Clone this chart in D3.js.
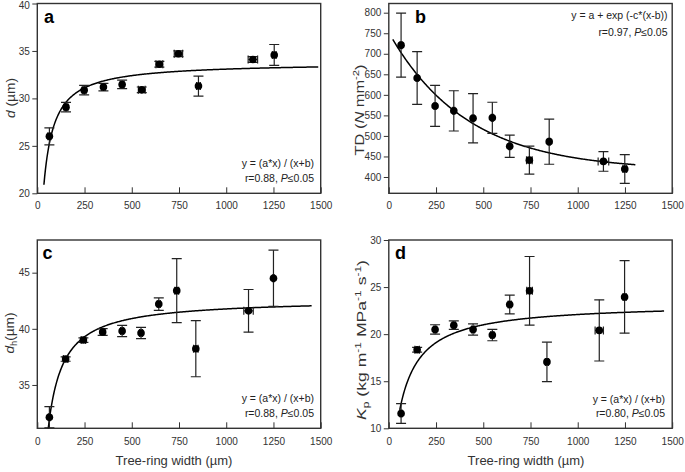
<!DOCTYPE html>
<html><head><meta charset="utf-8">
<script src="https://cdn.jsdelivr.net/npm/d3@7"></script>
<style>
body{margin:0;background:#fff;}
svg text{font-family:"Liberation Sans",Arial,Helvetica,sans-serif;}
</style></head><body>
<svg id="chart" width="685" height="472"></svg>
<script>
// ---------- data ----------
const xTicks = [0, 250, 500, 750, 1000, 1250, 1500];

// panel a : d (µm)
const aX    = [64, 152, 248, 350, 449, 553, 646, 747, 853, 1141, 1254];
const aY    = [26.0, 29.08, 30.87, 31.19, 31.47, 30.9, 33.6, 34.7, 31.3, 34.1, 34.58];
const aErr  = [0.9, 0.5, 0.5, 0.4, 0.45, 0.3, 0.3, 0.3, 1.05, 0.3, 1.1];
const aXErr = [8, 10, 10, 10, 10, 18, 18, 22, 10, 25, 10];
const aYTicks = [20, 25, 30, 35, 40];
const aFit = [33.8, 21.6];          // y = (a*x)/(x+b)
const aFitX = [35, 1487];

// panel b : TD (N mm-2)
const bX    = [65, 150, 245, 344, 446, 548, 640, 744, 849, 1136, 1249];
const bY    = [721, 641, 573, 561, 543, 544, 475, 441, 486, 438, 419.5];
const bErr  = [78, 64, 50, 49, 60, 38, 27, 34, 55, 24, 35];
const bXErr = [5, 5, 5, 5, 5, 5, 5, 15, 5, 28, 10];
const bYTicks = [400, 450, 500, 550, 600, 650, 700, 750, 800];
const bFit = [415.5, 2409.7, 0.002414]; // y = a + exp(-c*(x-b))
const bFitX = [21, 1305];

// panel c : dh (µm)
const cX    = [64, 150, 244, 346, 449, 549, 643, 738, 839, 1118, 1250];
const cY    = [32.12, 37.31, 39.0, 39.72, 39.8, 39.63, 42.2, 43.4, 38.23, 41.6, 44.5];
const cErr  = [0.95, 0.2, 0.2, 0.3, 0.5, 0.5, 0.55, 2.85, 2.5, 1.9, 2.5];
const cXErr = [5, 12, 12, 12, 8, 8, 8, 10, 12, 25, 5];
const cYTicks = [35, 40, 45];
const cFit = [42.67, 21.5];
const cFitX = [55, 1452];

// panel d : Kp
const dX    = [65, 150, 245, 344, 446, 548, 640, 745, 837, 1114, 1248];
const dY    = [11.57, 18.35, 20.5, 20.95, 20.5, 19.9, 23.15, 24.6, 17.05, 20.4, 23.95];
const dErr  = [1.05, 0.25, 0.5, 0.45, 0.6, 0.6, 1.0, 3.65, 2.1, 3.25, 3.85];
const dXErr = [5, 12, 8, 8, 8, 8, 8, 15, 8, 22, 8];
const dYTicks = [10, 15, 20, 25, 30];
const dFit = [23.3, 55];
const dFitX = [58, 1457];

const xTitle = "Tree-ring width (µm)";
const aLabel = [{t:"d", i:1}, {t:" (µm)"}];
const bLabel = [{t:"TD ("}, {t:"N", i:1}, {t:" mm"}, {t:"-2", sup:1}, {t:")"}];
const cLabel = [{t:"d", i:1}, {t:"h", sub:1}, {t:"(µm)"}];
const dLabel = [{t:"K", i:1}, {t:"p", sub:1}, {t:" (kg m"}, {t:"-1", sup:1}, {t:" MPa"}, {t:"-1", sup:1}, {t:" s"}, {t:"-1", sup:1}, {t:")"}];
const eqHyper = "y = (a*x) / (x+b)";
const eqExp = "y = a + exp (-c*(x-b))";
const statA = [{t:"r=0.88, "}, {t:"P", i:1}, {t:"≤0.05"}];
const statB = [{t:"r=0.97, "}, {t:"P", i:1}, {t:"≤0.05"}];
const statC = [{t:"r=0.88, "}, {t:"P", i:1}, {t:"≤0.05"}];
const statD = [{t:"r=0.80, "}, {t:"P", i:1}, {t:"≤0.05"}];

// ---------- layout ----------
const svg = d3.select("#chart");
const colL = [37.3, 320.7], colR = [388.8, 672.2];
const rowT = [3.5, 193.3], rowB = [240, 428.3];

function rich(sel, parts, size) {
  let shift = 0;
  parts.forEach(p => {
    const s = sel.append("tspan").text(p.t);
    let target = 0;
    if (p.i) s.attr("font-style", "italic");
    if (p.sup) { s.attr("font-size", size * 0.68); target = -size * 0.38; }
    if (p.sub) { s.attr("font-size", size * 0.68); target = size * 0.22; }
    if (target !== shift) s.attr("dy", target - shift);
    shift = target;
  });
}

const hyper = f => x => f[0] * x / (x + f[1]);
const expo = f => x => f[0] + Math.exp(-f[2] * (x - f[1]));

const panels = [
  {id:"a", xs:aX, ys:aY, err:aErr, xerr:aXErr, dom:[20,40], ticks:aYTicks, cx:colL, ry:rowT,
   fit:hyper(aFit), fitX:aFitX, letter:"a", lx:44, ly:22.7, label:aLabel, tx:15, ty:98, tlen:40,
   ann:[eqHyper, statA], ax:314, ay:[166.5, 182], tickPad:8.6},
  {id:"b", xs:bX, ys:bY, err:bErr, xerr:bXErr, dom:[360.3,822.4], ticks:bYTicks, cx:colR, ry:rowT,
   fit:expo(bFit), fitX:bFitX, letter:"b", lx:415, ly:22.7, label:bLabel, tx:364, ty:110, tlen:91,
   ann:[eqExp, statB], ax:667.5, ay:[19, 35.5], tickPad:8.6},
  {id:"c", xs:cX, ys:cY, err:cErr, xerr:cXErr, dom:[31.14,47.91], ticks:cYTicks, cx:colL, ry:rowB,
   fit:hyper(cFit), fitX:cFitX, letter:"c", lx:42.5, ly:259, label:cLabel, tx:14, ty:333, tlen:41,
   ann:[eqHyper, statC], ax:314, ay:[402, 417], tickPad:9.3, xtitle:true, xtx:174},
  {id:"d", xs:dX, ys:dY, err:dErr, xerr:dXErr, dom:[10,30], ticks:dYTicks, cx:colR, ry:rowB,
   fit:hyper(dFit), fitX:dFitX, letter:"d", lx:395, ly:259, label:dLabel, tx:366, ty:340, tlen:160,
   ann:[eqHyper, statD], ax:665, ay:[403, 417], tickPad:9.3, xtitle:true, xtx:526}
];

const ink = "#222", axisInk = "#333";

panels.forEach(p => {
  const x = d3.scaleLinear().domain([0, 1500]).range(p.cx);
  const y = d3.scaleLinear().domain(p.dom).range([p.ry[1], p.ry[0]]);
  const g = svg.append("g");

  g.append("clipPath").attr("id", "clip" + p.id).append("rect")
    .attr("x", p.cx[0]).attr("y", p.ry[0]).attr("width", p.cx[1] - p.cx[0]).attr("height", p.ry[1] - p.ry[0]);

  // x axis (ticks inward)
  const xa = g.append("g").attr("transform", `translate(0,${p.ry[1]})`)
    .call(d3.axisBottom(x).tickValues(xTicks).tickFormat(d3.format("d")).tickSizeInner(-6).tickSizeOuter(0).tickPadding(p.tickPad));
  xa.select(".domain").remove();
  xa.selectAll("line").attr("stroke", axisInk).attr("stroke-width", 1);
  xa.selectAll("text").attr("font-size", 10).attr("fill", axisInk).attr("font-family", null);

  // y axis (ticks outward)
  const ya = g.append("g").attr("transform", `translate(${p.cx[0]},0)`)
    .call(d3.axisLeft(y).tickValues(p.ticks).tickFormat(d3.format("d")).tickSizeInner(5).tickSizeOuter(0).tickPadding(2.5));
  ya.select(".domain").remove();
  ya.selectAll("line").attr("stroke", axisInk).attr("stroke-width", 1);
  ya.selectAll("text").attr("font-size", 10).attr("fill", axisInk).attr("font-family", null);
  ya.selectAll(".tick text").filter(function() {
    return y(+this.textContent) < 6;
  }).attr("y", 1.8);

  // frame
  g.append("rect").attr("x", p.cx[0]).attr("y", p.ry[0])
    .attr("width", p.cx[1] - p.cx[0]).attr("height", p.ry[1] - p.ry[0])
    .attr("fill", "none").attr("stroke", axisInk).attr("stroke-width", 1.4);

  // fit curve
  const xsFit = d3.range(p.fitX[0], p.fitX[1], 4).concat([p.fitX[1]]);
  g.append("path").attr("clip-path", `url(#clip${p.id})`)
    .attr("d", d3.line().x(d => x(d)).y(d => y(p.fit(d)))(xsFit))
    .attr("fill", "none").attr("stroke", "#000").attr("stroke-width", 1.5);

  const data = p.xs.map((v, i) => ({x: v, y: p.ys[i], e: p.err[i], xe: p.xerr[i]}));
  const eb = g.append("g").attr("stroke", ink).attr("stroke-width", 1.2).attr("clip-path", `url(#clip${p.id})`);
  data.forEach(d => {
    const cxp = x(d.x), y1 = y(d.y + d.e), y2 = y(d.y - d.e);
    eb.append("line").attr("x1", cxp).attr("x2", cxp).attr("y1", y1).attr("y2", y2);
    eb.append("line").attr("x1", cxp - 5).attr("x2", cxp + 5).attr("y1", y1).attr("y2", y1);
    eb.append("line").attr("x1", cxp - 5).attr("x2", cxp + 5).attr("y1", y2).attr("y2", y2);
    const cyp = y(d.y), x1 = x(d.x - d.xe), x2 = x(d.x + d.xe);
    eb.append("line").attr("x1", x1).attr("x2", x2).attr("y1", cyp).attr("y2", cyp);
    eb.append("line").attr("x1", x1).attr("x2", x1).attr("y1", cyp - 4).attr("y2", cyp + 4);
    eb.append("line").attr("x1", x2).attr("x2", x2).attr("y1", cyp - 4).attr("y2", cyp + 4);
  });
  g.append("g").selectAll("circle").data(data).join("circle")
    .attr("cx", d => x(d.x)).attr("cy", d => y(d.y)).attr("r", 3.8).attr("fill", "#000");

  // panel letter
  g.append("text").attr("x", p.lx).attr("y", p.ly).attr("font-size", 18).attr("font-weight", "bold")
    .attr("fill", "#000").text(p.letter);

  // annotation
  g.append("text").attr("x", p.ax).attr("y", p.ay[0]).attr("text-anchor", "end")
    .attr("font-size", 10.5).attr("fill", ink).text(p.ann[0]);
  const st = g.append("text").attr("x", p.ax).attr("y", p.ay[1]).attr("text-anchor", "end")
    .attr("font-size", 10.5).attr("fill", ink);
  rich(st, p.ann[1], 10.5);

  // y title: scaled along its reading direction to the reference length
  const yt = g.append("text").attr("text-anchor", "middle").attr("font-size", 13.5).attr("fill", axisInk);
  rich(yt, p.label, 13.5);
  const w = yt.node().getBBox().width || p.tlen;
  const sx = p.tlen / w;
  yt.attr("transform", `translate(${p.tx},${p.ty}) rotate(-90) scale(${sx},1)`);

  if (p.xtitle) {
    g.append("text").attr("x", p.xtx).attr("y", 465).attr("text-anchor", "middle")
      .attr("font-size", 13).attr("fill", axisInk).text(xTitle);
  }
});
</script>
</body></html>
